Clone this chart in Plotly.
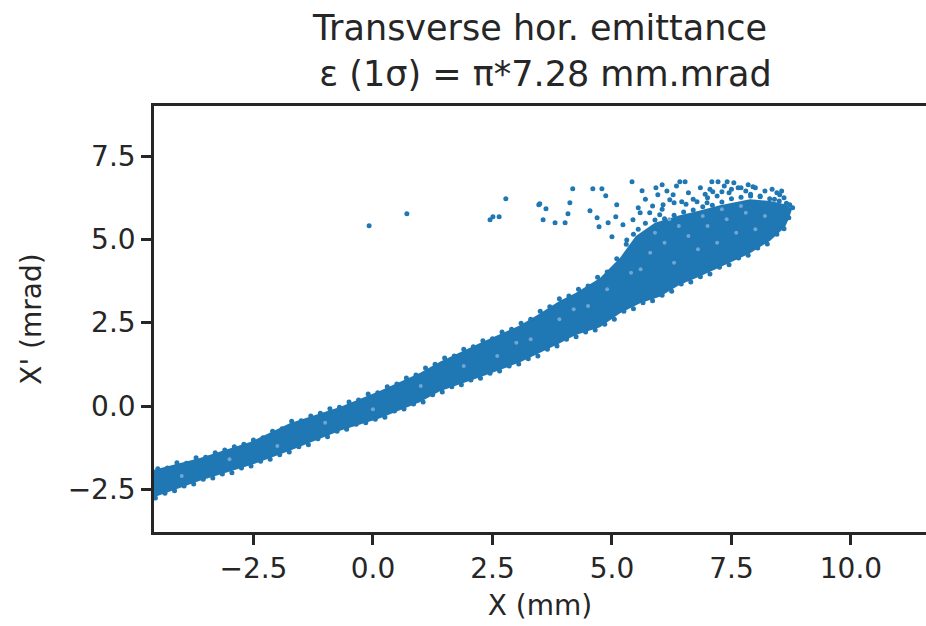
import plotly.graph_objects as go

# ---- dense core of the beam (outline) ----
core_x = [-4.70, -3.62, -2.57, -1.74, -0.69, 0.15, 0.98, 1.40, 2.24, 3.08, 3.50, 3.91, 4.23, 4.75,
          5.17, 5.50, 5.90, 6.42, 6.80, 7.26, 7.89, 8.31, 8.62, 8.77,
          8.70, 8.62, 8.31, 7.89, 7.26, 6.80, 6.42, 6.00, 5.59, 5.17, 4.75, 4.23, 3.91, 3.08,
          2.24, 1.40, 0.98, 0.15, -0.69, -1.74, -2.57, -3.62, -4.70]
core_y = [-1.96, -1.56, -1.08, -0.52, -0.03, 0.46, 0.99, 1.33, 1.89, 2.42, 2.78, 3.16, 3.38, 3.84,
          4.45, 5.10, 5.50, 5.72, 5.85, 6.02, 6.20, 6.15, 6.05, 5.92,
          5.62, 5.36, 4.96, 4.58, 4.16, 3.86, 3.64, 3.28, 3.08, 2.78, 2.36, 2.12, 1.88, 1.31,
          0.86, 0.44, 0.11, -0.37, -0.74, -1.34, -1.78, -2.24, -2.80]

# ---- individual particles (edges of the band and halo) ----
top_x = [-4.5, -4.3, -4.1, -3.9, -3.7, -3.5, -3.3, -3.1, -2.9, -2.7, -2.5, -2.3, -2.1, -1.9, -1.7,
         -1.5, -1.3, -1.1, -0.9, -0.7, -0.5, -0.3, -0.1, 0.1, 0.3, 0.5, 0.7, 0.9, 1.1, 1.3, 1.5,
         1.7, 1.9, 2.1, 2.3, 2.5, 2.7, 2.9, 3.1, 3.3, 3.5, 3.7, 3.9, 4.1, 4.3, 4.5, 4.7, 4.9, 5.1,
         5.3, 5.45, 5.55, 5.7, 5.9, 6.1, 6.3, 6.5, 6.7, 6.9, 7.1, 7.3, 7.5, 7.7, 7.9, 8.1, 8.3,
         8.5, 8.65, 8.78]
top_y = [-1.88, -1.86, -1.70, -1.72, -1.55, -1.54, -1.40, -1.32, -1.22, -1.15, -1.02, -0.95, -0.76,
         -0.68, -0.46, -0.44, -0.30, -0.22, -0.08, -0.04, 0.12, 0.18, 0.36, 0.40, 0.58, 0.66, 0.84,
         0.93, 1.14, 1.25, 1.44, 1.50, 1.70, 1.78, 1.96, 2.02, 2.22, 2.30, 2.48, 2.60, 2.84, 2.98,
         3.22, 3.30, 3.50, 3.60, 3.86, 4.02, 4.42, 4.85, 5.15, 5.30, 5.48, 5.58, 5.62, 5.72, 5.82,
         5.88, 5.98, 6.02, 6.12, 6.22, 6.26, 6.30, 6.28, 6.22, 6.15, 6.08, 5.95]
bot_x = [-4.55, -4.35, -4.15, -3.95, -3.75, -3.55, -3.35, -3.15, -2.95, -2.75, -2.55, -2.35, -2.15,
         -1.95, -1.75, -1.55, -1.35, -1.15, -0.95, -0.75, -0.55, -0.35, -0.15, 0.05, 0.25, 0.45,
         0.65, 0.85, 1.05, 1.25, 1.45, 1.65, 1.85, 2.05, 2.25, 2.45, 2.65, 2.85, 3.05, 3.25, 3.45,
         3.65, 3.85, 4.05, 4.25, 4.45, 4.65, 4.85, 5.05, 5.25, 5.45, 5.65, 5.85, 6.05, 6.25, 6.45,
         6.65, 6.85, 7.05, 7.25, 7.45, 7.65, 7.85, 8.05, 8.25, 8.45, 8.60, 8.70]
bot_y = [-2.76, -2.62, -2.54, -2.40, -2.34, -2.20, -2.16, -2.04, -2.00, -1.86, -1.80, -1.66, -1.60,
         -1.46, -1.38, -1.22, -1.16, -0.98, -0.92, -0.76, -0.70, -0.55, -0.50, -0.40, -0.34, -0.15,
         -0.09, 0.06, 0.12, 0.34, 0.42, 0.58, 0.64, 0.78, 0.83, 0.98, 1.05, 1.20, 1.26, 1.42, 1.50,
         1.70, 1.80, 2.00, 2.08, 2.22, 2.28, 2.45, 2.60, 2.84, 2.92, 3.10, 3.16, 3.32, 3.44, 3.66,
         3.72, 3.88, 3.96, 4.16, 4.24, 4.44, 4.52, 4.74, 4.86, 5.15, 5.32, 5.65]
halo_x = [-0.08, 0.71, 2.45, 2.51, 2.64, 2.78, 3.47, 4.18, 4.60, 4.79, 4.87, 3.49, 3.62, 3.56, 3.81,
          4.02, 4.12, 4.08, 4.54, 4.69, 4.73, 4.92, 5.10, 5.08, 5.00, 5.42, 5.63, 5.92, 6.05, 5.96,
          6.42, 6.53, 6.28, 6.21, 6.07, 6.46, 6.78, 6.99, 7.09, 7.22, 7.41, 7.11, 7.30, 5.31, 5.23,
          5.44, 5.59, 5.79, 6.00, 7.64, 7.85, 7.95, 8.51, 8.72,
          5.55, 5.70, 5.85, 6.15, 6.30, 6.35, 6.60, 6.70, 6.85, 6.95, 7.05, 7.20, 7.35, 7.50, 7.55,
          7.70, 7.80, 8.00, 8.10, 8.20, 8.35, 8.45, 8.60, 8.55, 6.05, 6.55, 7.00, 7.45, 7.90, 8.40]
halo_y = [5.41, 5.77, 5.59, 5.68, 5.68, 6.22, 6.04, 6.52, 6.52, 6.52, 6.31, 6.07, 5.92, 5.59, 5.50,
          5.50, 6.10, 5.77, 5.86, 5.65, 5.38, 5.50, 6.04, 5.68, 5.08, 6.73, 6.46, 6.55, 6.64, 6.34,
          6.73, 6.73, 6.34, 6.19, 6.04, 6.13, 6.13, 6.10, 6.73, 6.73, 6.73, 6.43, 6.43, 4.98, 5.44,
          5.59, 5.80, 5.80, 5.74, 6.55, 6.64, 6.58, 6.34, 6.04,
          5.95, 6.20, 6.00, 6.45, 6.10, 6.60, 6.40, 6.20, 6.55, 6.35, 6.50, 6.30, 6.60, 6.50, 6.70,
          6.55, 6.45, 6.55, 6.30, 6.45, 6.50, 6.40, 6.25, 6.45, 5.90, 6.05, 6.25, 6.40, 6.35, 6.20]
# lighter particles seen inside the dense core
light_x = [5.8, 6.1, 6.3, 6.6, 6.8, 7.0, 7.2, 7.4, 7.6, 7.8, 8.0, 8.2, 6.4, 5.6, 5.9, 4.9, 4.5,
           3.9, 3.3, 2.6, 6.9, 7.3, 7.7, 6.2, 5.4, 4.2, 3.0, 1.9, 1.0, 0.0, -1.0, -2.0, -3.0, -4.0]
light_y = [4.6, 4.9, 4.3, 5.1, 4.7, 5.4, 4.9, 5.6, 5.2, 5.8, 5.3, 5.7, 5.4, 4.1, 5.2, 3.5, 3.0,
           2.6, 2.0, 1.5, 5.7, 5.9, 6.0, 5.6, 4.0, 2.9, 1.9, 1.2, 0.6, -0.1, -0.5, -1.2, -1.6, -2.1]

x_ticks = [-2.5, 0.0, 2.5, 5.0, 7.5, 10.0]
y_ticks = [-2.5, 0.0, 2.5, 5.0, 7.5]

BLUE = "#1f77b4"
LIGHT = "#6ea6d4"
INK = "#262626"
FONT = "DejaVu Sans"

fig = go.Figure()
fig.add_trace(go.Scatter(x=core_x, y=core_y, mode="lines", fill="toself",
                         fillcolor=BLUE, line=dict(width=0, color=BLUE),
                         hoverinfo="skip", showlegend=False))
fig.add_trace(go.Scatter(x=top_x + bot_x, y=top_y + bot_y, mode="markers",
                         marker=dict(size=5, color=BLUE, line=dict(width=0)),
                         showlegend=False))
fig.add_trace(go.Scatter(x=halo_x, y=halo_y, mode="markers",
                         marker=dict(size=5, color=BLUE, line=dict(width=0)),
                         showlegend=False))
fig.add_trace(go.Scatter(x=light_x, y=light_y, mode="markers",
                         marker=dict(size=4, color=LIGHT, line=dict(width=0)),
                         showlegend=False))

fig.update_layout(
    width=926, height=626,
    margin=dict(l=154, r=0, t=106, b=94),
    paper_bgcolor="white", plot_bgcolor="white",
    font=dict(family=FONT, size=28, color=INK),
    title=dict(text="Transverse hor. emittance<br>\u00a0ε (1σ) = π*7.28 mm.mrad",
               x=0.5, xref="paper", xanchor="center",
               y=1 - 40 / 626, yref="container", yanchor="middle",
               font=dict(family=FONT, size=35, color=INK)),
    showlegend=False,
)
fig.update_xaxes(range=[-4.58, 11.57], tickvals=x_ticks, tickformat=".1f",
                 showline=True, linecolor=INK, linewidth=2.5, mirror=True,
                 ticks="outside", ticklen=10, tickwidth=2.5, tickcolor=INK,
                 showgrid=False, zeroline=False,
                 title=dict(text="X (mm)", standoff=12, font=dict(size=28)))
fig.update_yaxes(range=[-3.78, 9.0], tickvals=y_ticks, tickformat=".1f",
                 showline=True, linecolor=INK, linewidth=2.5, mirror=False,
                 ticks="outside", ticklen=10, tickwidth=2.5, tickcolor=INK,
                 showgrid=False, zeroline=False,
                 title=dict(text="X' (mrad)", standoff=18, font=dict(size=28)))

fig.write_html("out.html")
